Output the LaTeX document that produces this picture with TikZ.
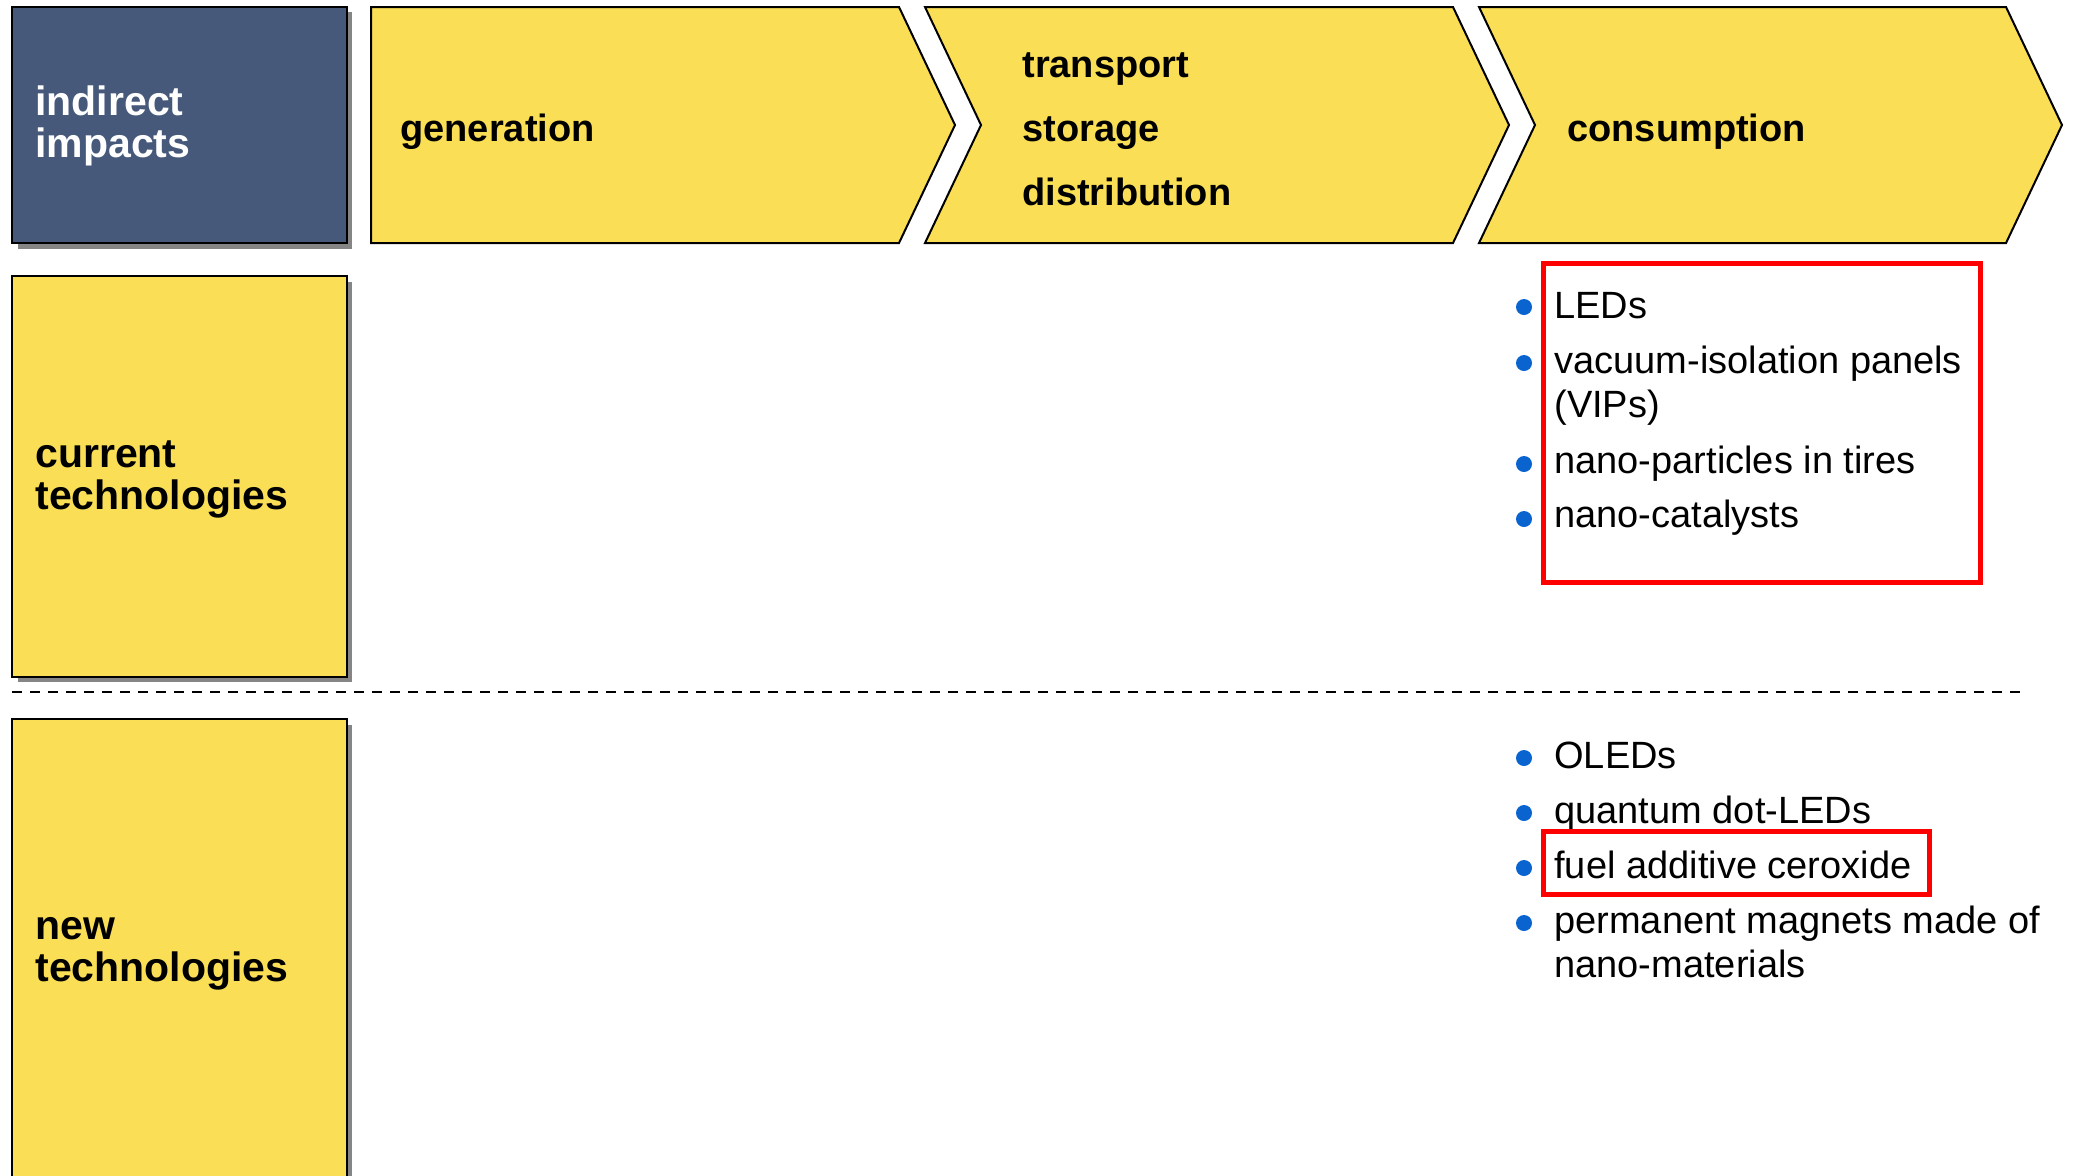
\documentclass[tikz,border=0pt]{standalone}
\usepackage{fontspec}
\setmainfont{Liberation Sans}
\definecolor{yel}{HTML}{FADF56}
\definecolor{navy}{HTML}{46597B}
\definecolor{bul}{HTML}{0A64D0}
\definecolor{shad}{HTML}{858585}
\begin{document}
\begin{tikzpicture}[x=0.5pt,y=-0.5pt,
  panel/.style={draw=black,line width=1.2pt},
  chev/.style={draw=black,line width=1pt,fill=yel},
  shadowbox/.style={fill=shad,draw=none},
  hdr/.style={font=\fontsize{19}{32}\selectfont\bfseries,anchor=base west,inner sep=0pt,align=left},
  lbl/.style={font=\fontsize{20.5}{21}\selectfont\bfseries,anchor=base west,inner sep=0pt,align=left},
  item/.style={font=\fontsize{19}{22}\selectfont,anchor=base west,inner sep=0pt,align=left},
  dot/.style={circle,fill=bul,inner sep=0pt,minimum size=8pt},
  redbox/.style={draw=red,line width=2.5pt},
  sep/.style={draw=black,line width=1pt,dash pattern=on 5pt off 4pt}]
\clip (0,0) rectangle (2075,1175);
\fill[white] (0,0) rectangle (2075,1175);

% left column boxes (multi-line nodes are anchored at their last baseline)
\fill[shadowbox] (18,12) rectangle (352,249);
\draw[panel,fill=navy] (12,7) rectangle (347,243);
\node[lbl,text=white] (ii) at (35,157) {indirect\\impacts};

\fill[shadowbox] (18,282) rectangle (352,682);
\draw[panel,fill=yel] (12,276) rectangle (347,677);
\node[lbl] (cur) at (35,509) {current\\technologies};

\fill[shadowbox] (18,725) rectangle (352,1190);
\draw[panel,fill=yel] (12,719) rectangle (347,1185);
\node[lbl] (new) at (35,981) {new\\technologies};

% chevrons
\draw[chev] (371,7) -- (899,7) -- (955,125) -- (899,243) -- (371,243) -- cycle;
\draw[chev] (925,7) -- (1453,7) -- (1509,125) -- (1453,243) -- (925,243) -- (981,125) -- cycle;
\draw[chev] (1479,7) -- (2006,7) -- (2062,125) -- (2006,243) -- (1479,243) -- (1535,125) -- cycle;

\node[hdr] (gen) at (400,141) {generation};
\node[hdr] (tsd) at (1022,205) {transport\\storage\\distribution};
\node[hdr] (con) at (1567,141) {consumption};

% separator
\coordinate (sepL) at (12,692);
\coordinate (sepR) at (2025,692);
\draw[sep] (sepL) -- (sepR);

% current technologies items
\node[dot] (d1) at (1524,307) {};
\node[dot] (d2) at (1524,363) {};
\node[dot] (d3) at (1524,464) {};
\node[dot] (d4) at (1524,519) {};
\node[item] (t1) at (1554,318) {LEDs};
\node[item] (t2) at (1554,417) {vacuum-isolation panels\\(VIPs)};
\node[item] (t3) at (1554,473) {nano-particles in tires};
\node[item] (t4) at (1554,527) {nano-catalysts};
\draw[redbox] (1543,263) rectangle (1980,582);

% new technologies items
\node[dot] (e1) at (1524,758) {};
\node[dot] (e2) at (1524,813) {};
\node[dot] (e3) at (1524,868) {};
\node[dot] (e4) at (1524,923) {};
\node[item] (u1) at (1554,768) {OLEDs};
\node[item] (u2) at (1554,823) {quantum dot-LEDs};
\node[item] (u3) at (1554,878) {fuel additive ceroxide};
\node[item] (u4) at (1554,977) {permanent magnets made of\\nano-materials};
\draw[redbox] (1543,831) rectangle (1929,894);
\end{tikzpicture}
\end{document}
